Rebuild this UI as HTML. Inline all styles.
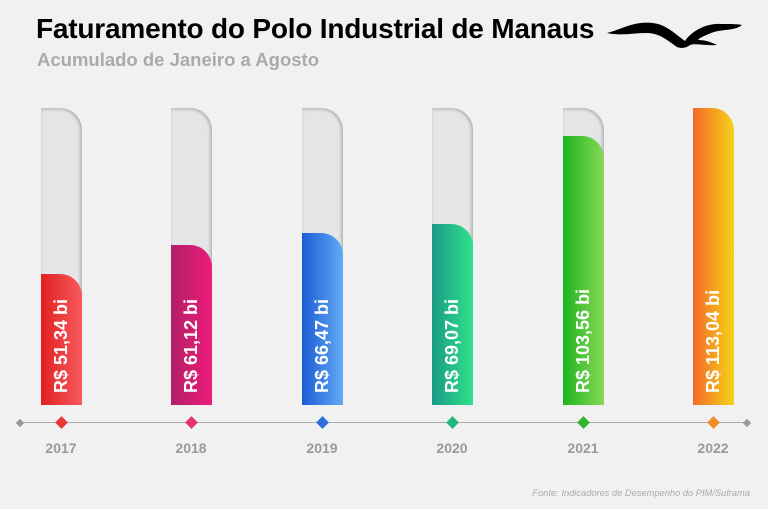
<!DOCTYPE html>
<html><head><meta charset="utf-8"><style>
body{margin:0;width:768px;height:509px;background:#f1f1f1;position:relative;overflow:hidden;font-family:"Liberation Sans",Arial,sans-serif}
.t{position:absolute;left:36px;top:13px;font-size:28px;font-weight:bold;color:#000;white-space:nowrap;letter-spacing:-0.2px}
.s{position:absolute;left:37px;top:49px;font-size:18.5px;font-weight:bold;color:#aaa;white-space:nowrap}
.track{position:absolute;top:108px;height:297px;width:41px;background:#e4e5e7;border-top-right-radius:22px;box-shadow:inset -2px 0 3px rgba(0,0,0,.18),inset 0 2px 3px rgba(0,0,0,.1)}
.fill{position:absolute;bottom:0;left:0;width:41px;border-top-right-radius:22px}
.lbl{position:absolute;left:20px;bottom:12px;transform-origin:0 100%;transform:rotate(-90deg) translateY(50%);white-space:nowrap;color:#fff;font-weight:bold;font-size:18px;line-height:20px;height:20px}
.axis{position:absolute;left:20px;top:422px;width:728px;height:1px;background:#aaa}
.d{position:absolute;width:9px;height:9px;transform:rotate(45deg);top:418px}
.y{position:absolute;top:440px;width:60px;text-align:center;font-size:14px;font-weight:bold;color:#999}
.f{position:absolute;right:18px;top:488px;font-size:9.3px;font-style:italic;color:#aaa}
</style></head><body>
<div class="t">Faturamento do Polo Industrial de Manaus</div>
<div class="s">Acumulado de Janeiro a Agosto</div>
<svg style="position:absolute;left:605px;top:20px" width="140" height="30" viewBox="0 0 140 30">
<path d="M2 13 C18 9,28 1,48 3 C62 5,70 14,80 21 C86 12,100 3,116 4 C126 4,132 4,137 5 C130 11,116 9,106 13 C99 16,94 18,93 20 C100 20,106 22,112 25 C101 26,91 23,85 25 C80 29,75 28,72 27 C62 20,54 13,42 13 C28 13,15 16,2 13 Z" fill="#000"/>
</svg>

<div class="track" style="left:41px"><div class="fill" style="height:131px;background:linear-gradient(90deg,#e3201f,#f75a5e)"><div class="lbl">R$ 51,34 bi</div></div></div>
<div class="track" style="left:171px"><div class="fill" style="height:160px;background:linear-gradient(90deg,#b21f66,#ee1c7b)"><div class="lbl">R$ 61,12 bi</div></div></div>
<div class="track" style="left:302px"><div class="fill" style="height:172px;background:linear-gradient(90deg,#1c5bd4,#62aaf6)"><div class="lbl">R$ 66,47 bi</div></div></div>
<div class="track" style="left:432px"><div class="fill" style="height:181px;background:linear-gradient(90deg,#1a9a86,#30e28a)"><div class="lbl">R$ 69,07 bi</div></div></div>
<div class="track" style="left:563px"><div class="fill" style="height:269px;background:linear-gradient(90deg,#1bb520,#8ad855)"><div class="lbl">R$ 103,56 bi</div></div></div>
<div class="track" style="left:693px;box-shadow:none;background:none"><div class="fill" style="height:297px;background:linear-gradient(90deg,#f26a26,#f6d31a)"><div class="lbl">R$ 113,04 bi</div></div></div>

<div class="axis"></div>
<div class="d" style="left:17px;width:6px;height:6px;top:420px;background:#999"></div>
<div class="d" style="left:744px;width:6px;height:6px;top:420px;background:#999"></div>
<div class="d" style="left:57px;background:#e9383c"></div>
<div class="d" style="left:187px;background:#e8336b"></div>
<div class="d" style="left:318px;background:#2d6fdd"></div>
<div class="d" style="left:448px;background:#24b77d"></div>
<div class="d" style="left:579px;background:#32b52a"></div>
<div class="d" style="left:709px;background:#f58a2a"></div>
<div class="y" style="left:31px">2017</div>
<div class="y" style="left:161px">2018</div>
<div class="y" style="left:292px">2019</div>
<div class="y" style="left:422px">2020</div>
<div class="y" style="left:553px">2021</div>
<div class="y" style="left:683px">2022</div>
<div class="f">Fonte: Indicadores de Desempenho do PIM/Suframa</div>
</body></html>
